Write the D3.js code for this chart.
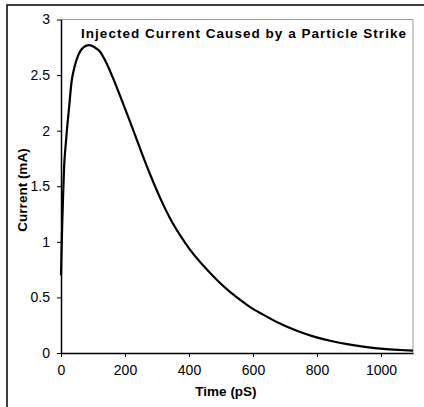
<!DOCTYPE html>
<html>
<head>
<meta charset="utf-8">
<script src="https://cdn.jsdelivr.net/npm/d3@7"></script>
<style>
    body { margin: 0; background: #fff; }
    svg { display: block; font-family: Arial, "Liberation Sans", sans-serif; }
    .axis path, .axis line { stroke: #000; }
    .axis text { fill: #000; font-size: 14px; }
</style>
</head>
<body>
<div id="chart"></div>
<script>
// Injected current pulse
const timePs = [0, 2, 4, 7, 10, 14, 18, 25, 33, 42, 54, 70, 88, 105, 122, 140, 163, 185, 216,
    247, 278, 309, 341, 372, 403, 434, 466, 497, 528, 559, 590, 632, 684, 737, 788, 841, 903, 955, 1007, 1059, 1100];
const currentMa = [0.7, 0.95, 1.18, 1.45, 1.69, 1.85, 1.99, 2.2, 2.44, 2.57, 2.68, 2.75, 2.77, 2.75, 2.71, 2.62,
    2.47, 2.31, 2.08, 1.84, 1.61, 1.4, 1.21, 1.06, 0.93, 0.82, 0.72, 0.63, 0.55, 0.48, 0.415, 0.345, 0.265, 0.2,
    0.15, 0.11, 0.075, 0.053, 0.037, 0.027, 0.021];
const xTicks = [0, 200, 400, 600, 800, 1000];
const yTicks = [0, 0.5, 1, 1.5, 2, 2.5, 3];

const chartTitle = 'Injected Current Caused by a Particle Strike';
const xLabel = 'Time (pS)';
const yLabel = 'Current (mA)';

const totalWidth = 424;
const totalHeight = 407;
const margin = { top: 19.5, right: 11, bottom: 54, left: 61 };
const width = totalWidth - margin.left - margin.right;
const height = totalHeight - margin.top - margin.bottom;

const svg = d3.select('#chart')
    .append('svg')
    .attr('width', totalWidth)
    .attr('height', totalHeight);

// outer chart frame (right and bottom edges fall outside the picture)
svg.append('rect')
    .attr('x', 7)
    .attr('y', 5)
    .attr('width', totalWidth + 10)
    .attr('height', totalHeight + 10)
    .attr('fill', '#fff')
    .attr('stroke', '#000')
    .attr('stroke-width', 1.5);

const g = svg.append('g')
    .attr('transform', `translate(${margin.left},${margin.top})`);

const x = d3.scaleLinear().domain([0, 1100]).range([0, width]);
const y = d3.scaleLinear().domain([0, 3]).range([height, 0]);

// plot area border (top / right in gray)
g.append('path')
    .attr('d', `M0,0H${width}V${height}`)
    .attr('fill', 'none')
    .attr('stroke', '#999')
    .attr('stroke-width', 1);

g.append('g')
    .attr('class', 'axis')
    .attr('transform', `translate(0,${height})`)
    .call(d3.axisBottom(x).tickValues(xTicks).tickSize(4).tickSizeOuter(0).tickPadding(8)
        .tickFormat(d3.format('d')))
    .call(a => a.select('.domain').attr('stroke-width', 1.5));

g.append('g')
    .attr('class', 'axis')
    .call(d3.axisLeft(y).tickValues(yTicks).tickSize(4).tickSizeOuter(0).tickPadding(7)
        .tickFormat(d3.format('')))
    .call(a => a.select('.domain').attr('stroke-width', 1.5));

const line = d3.line()
    .x((d, i) => x(timePs[i]))
    .y(d => y(d))
    .curve(d3.curveMonotoneX);

g.append('path')
    .datum(currentMa)
    .attr('fill', 'none')
    .attr('stroke', '#000')
    .attr('stroke-width', 2.2)
    .attr('stroke-linejoin', 'round')
    .attr('d', line);

svg.append('text')
    .attr('x', 81)
    .attr('y', 38)
    .attr('font-size', '13.5px')
    .attr('font-weight', 'bold')
    .attr('textLength', 325)
    .text(chartTitle);

svg.append('text')
    .attr('x', 226)
    .attr('y', 396)
    .attr('text-anchor', 'middle')
    .attr('font-size', '13.5px')
    .attr('font-weight', 'bold')
    .text(xLabel);

svg.append('text')
    .attr('transform', 'translate(27,190) rotate(-90)')
    .attr('text-anchor', 'middle')
    .attr('font-size', '13.5px')
    .attr('font-weight', 'bold')
    .text(yLabel);
</script>
</body>
</html>
